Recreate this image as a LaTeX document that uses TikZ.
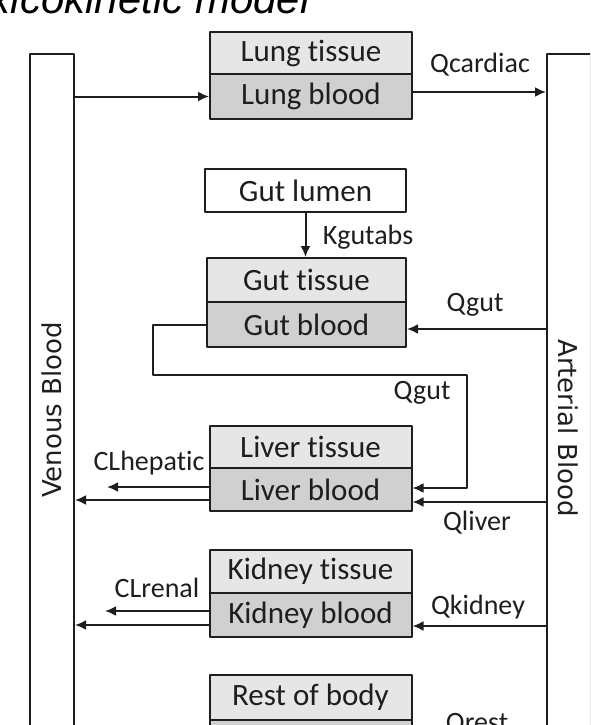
\documentclass[tikz,border=0pt]{standalone}
\usepackage{fontspec}
\setmainfont{Carlito}[Ligatures=NoCommon]
\newfontfamily\barfont{DejaVu Sans}
\newfontfamily\headfont{Liberation Sans}
\usepackage{tikz}
\usetikzlibrary{arrows.meta}

\definecolor{tissuegray}{HTML}{E6E6E6}
\definecolor{bloodgray}{HTML}{D0D0D0}
\definecolor{inkgray}{HTML}{1E1E1E}

\begin{document}
\begin{tikzpicture}[
			x=1pt, y=-1pt,
			every node/.style={text=inkgray},
			line cap=round,
			line join=round,
			box/.style={draw=inkgray, line width=2pt, minimum width=202pt, inner sep=0pt,
				font=\fontsize{31}{36}\selectfont},
			tissue/.style={box, fill=tissuegray, minimum height=42pt},
			blood/.style={box, fill=bloodgray, minimum height=44pt},
			bar/.style={draw=inkgray, line width=2pt, minimum width=44pt, minimum height=800pt, inner sep=0pt},
			barlabel/.style={font=\barfont\fontsize{26}{30}\selectfont},
			rate/.style={font=\fontsize{28}{32}\selectfont, inner sep=0pt},
			flow/.style={draw=inkgray, line width=2pt, -{Latex[length=11pt,width=10pt]}}
			]
			\useasboundingbox (0,0) rectangle (590,725);
			\clip (0,0) rectangle (590,725);
			
			% title, cut by the top edge
			\node[anchor=base east, text=black, font=\headfont\itshape\fontsize{42}{48}\selectfont] (title) at (313,14) {Toxicokinetic model};
			
			% blood pools
			\node[bar] (venous) at (52,454) {};
			\node[bar] (arterial) at (569,454) {};
			\node[barlabel, rotate=90] (venLabel) at (52,410) {Venous Blood};
			\node[barlabel, rotate=-90] (artLabel) at (568,428) {Arterial Blood};
			
			% organs
			\node[tissue] (lungT) at (311,53) {Lung tissue};
			\node[blood, minimum height=45pt] (lungB) at (311,96.5) {Lung blood};
			
			\node[box, fill=white, minimum width=201pt, minimum height=43pt] (gutL) at (305.5,190.5) {Gut lumen};
			\node[tissue, minimum width=199pt, minimum height=44pt] (gutT) at (306.5,280) {Gut tissue};
			\node[blood, minimum width=199pt, minimum height=45pt] (gutB) at (306.5,324.5) {Gut blood};
			
			\node[tissue] (liverT) at (310.5,447) {Liver tissue};
			\node[blood, minimum height=43pt] (liverB) at (310.5,489.5) {Liver blood};
			
			\node[tissue, minimum height=43pt] (kidneyT) at (310.5,571.5) {Kidney tissue};
			\node[blood] (kidneyB) at (310.5,615) {Kidney blood};
			
			\node[tissue, minimum height=45pt] (restT) at (310.5,697.5) {Rest of body};
			\node[blood, minimum height=45pt] (restB) at (310.5,742.5) {};
			
			% lung
			\draw[flow] (venous.east |- lungB.west) -- (lungB.west);
			\coordinate (lungOut) at ([yshift=4.5pt]lungB.east);
			\draw[flow] (lungOut) -- (lungOut -| arterial.west);
			\node[rate] (qCardiac) at (480,65) {Qcardiac};
			
			% gut
			\draw[flow] (gutL.south) -- (gutL.south |- gutT.north);
			\node[rate] (kGutabs) at (368,237) {Kgutabs};
			\coordinate (gutIn) at ([yshift=-4.5pt]gutB.east);
			\draw[flow] (gutIn -| arterial.west) -- (gutIn);
			\node[rate] (qGut) at (475,305) {Qgut};
			\coordinate (loopL) at (153,375);
			\coordinate (loopR) at (467,375);
			\coordinate (liverGut) at ([yshift=1.5pt]liverB.east);
			\draw[flow] (gutB.west) -| (loopL) -- (loopR) |- (liverGut);
			\node[rate] (qGutLiver) at (422,393) {Qgut};
			
			% liver
			\coordinate (liverArt) at ([yshift=-12.5pt]liverB.east);
			\draw[flow] (liverArt -| arterial.west) -- (liverArt);
			\node[rate] (qLiver) at (477,523) {Qliver};
			\coordinate (liverVen) at ([yshift=-10.5pt]liverB.west);
			\draw[flow] (liverVen) -- (liverVen -| venous.east);
			\coordinate (liverCl) at ([yshift=2.5pt]liverB.west);
			\coordinate (hepOut) at (107,487);
			\draw[flow] (liverCl) -- (hepOut);
			\node[rate] (clHepatic) at (149,463) {CLhepatic};
			
			% kidney
			\coordinate (kidneyArt) at ([yshift=-11pt]kidneyB.east);
			\draw[flow] (kidneyArt -| arterial.west) -- (kidneyArt);
			\node[rate] (qKidney) at (478,607) {Qkidney};
			\coordinate (kidneyVen) at ([yshift=-10pt]kidneyB.west);
			\draw[flow] (kidneyVen) -- (kidneyVen -| venous.east);
			\coordinate (kidneyCl) at ([yshift=4pt]kidneyB.west);
			\coordinate (renOut) at (105,611);
			\draw[flow] (kidneyCl) -- (renOut);
			\node[rate] (clRenal) at (157,588) {CLrenal};
			
			% rest of body
			\node[rate, anchor=base] (qRest) at (477,731) {Qrest};
		\end{tikzpicture}
\end{document}
